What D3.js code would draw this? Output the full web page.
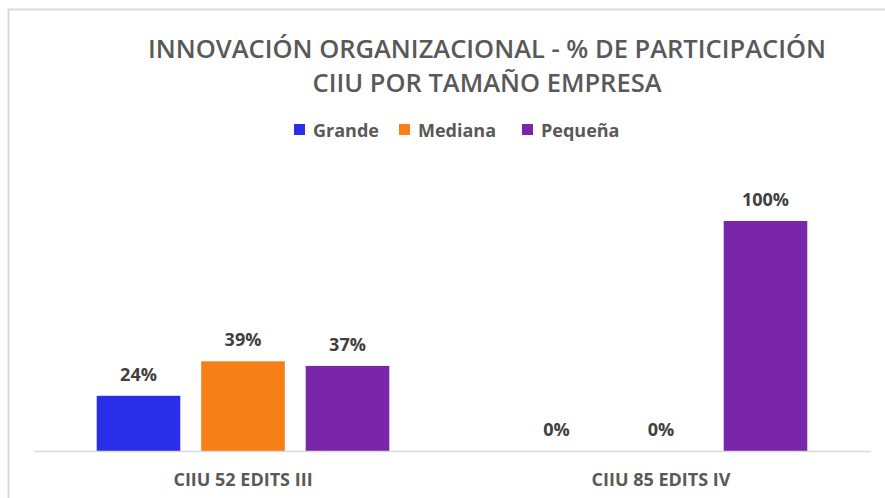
<!DOCTYPE html>
<html>
<head>
<meta charset="utf-8">
<script src="https://cdn.jsdelivr.net/npm/d3@7"></script>
<style>
  body { margin: 0; background: #fff; }
  text { font-family: "Open Sans", Lato, sans-serif; }
</style>
</head>
<body>
<div id="chart-area"></div>
<script>
// data
var categories = ["CIIU 52 EDITS III", "CIIU 85 EDITS IV"];
var series = ["Grande", "Mediana", "Pequeña"];
var grande = [24, 0];
var mediana = [39, 0];
var pequena = [37, 100];
var colors = ["#2b2ee9", "#f77f17", "#7a26a8"];

var W = 885, H = 498;
var margin = {left: 34, right: 15, top: 221, bottom: 47};

var svg = d3.select("#chart-area").append("svg")
    .attr("width", W)
    .attr("height", H);

// chart frame
svg.append("rect")
    .attr("x", 8.5).attr("y", 9.5)
    .attr("width", W + 20).attr("height", H + 20)
    .attr("fill", "#fff")
    .attr("stroke", "#d9d9d9")
    .attr("stroke-width", 2);

// title
var title = svg.append("text")
    .attr("text-anchor", "middle")
    .attr("fill", "#595959")
    .attr("font-size", "25.5px")
    .attr("font-weight", 600);
title.append("tspan").attr("x", 487).attr("y", 58).text("INNOVACIÓN ORGANIZACIONAL - % DE PARTICIPACIÓN");
title.append("tspan").attr("x", 487).attr("y", 92).text("CIIU POR TAMAÑO EMPRESA");

// scales
var x0 = d3.scaleBand()
    .domain(categories)
    .range([margin.left, W - margin.right]);

var x1 = d3.scaleBand()
    .domain(series)
    .range([0, x0.bandwidth()])
    .paddingInner(0.2)
    .paddingOuter(0.6);

var y = d3.scaleLinear()
    .domain([0, 100])
    .range([H - margin.bottom, margin.top]);

var color = d3.scaleOrdinal().domain(series).range(colors);

var rows = [];
categories.forEach(function(c, i) {
  rows.push({cat: c, ser: "Grande", v: grande[i]});
  rows.push({cat: c, ser: "Mediana", v: mediana[i]});
  rows.push({cat: c, ser: "Pequeña", v: pequena[i]});
});

var g = svg.append("g");

// bars
g.selectAll("rect.bar")
  .data(rows)
  .enter().append("rect")
    .attr("class", "bar")
    .attr("x", function(d) { return x0(d.cat) + x1(d.ser); })
    .attr("y", function(d) { return y(d.v); })
    .attr("width", x1.bandwidth())
    .attr("height", function(d) { return y(0) - y(d.v); })
    .attr("fill", function(d) { return color(d.ser); });

// data labels
g.selectAll("text.lbl")
  .data(rows)
  .enter().append("text")
    .attr("class", "lbl")
    .attr("x", function(d) { return x0(d.cat) + x1(d.ser) + x1.bandwidth() / 2; })
    .attr("y", function(d) { return y(d.v) - 15; })
    .attr("text-anchor", "middle")
    .attr("font-size", "18px")
    .attr("font-weight", 700)
    .attr("fill", "#404040")
    .text(function(d) { return d.v + "%"; });

// x axis
var xAxis = svg.append("g")
    .attr("transform", "translate(0," + y(0) + ")")
    .call(d3.axisBottom(x0).tickSize(0).tickPadding(22));
xAxis.select(".domain").attr("stroke", "#d9d9d9").attr("stroke-width", 1.5);
xAxis.selectAll("text")
    .attr("font-family", "'Open Sans', Lato, sans-serif")
    .attr("font-size", "18px")
    .attr("font-weight", 700)
    .attr("fill", "#595959");

// legend
var legX = [294, 399, 522];
var leg = svg.selectAll("g.leg")
  .data(series)
  .enter().append("g")
    .attr("class", "leg")
    .attr("transform", function(d, i) { return "translate(" + legX[i] + ",124)"; });
leg.append("rect")
    .attr("width", 11).attr("height", 11)
    .attr("fill", function(d) { return color(d); });
leg.append("text")
    .attr("x", 19).attr("y", 12.5)
    .attr("font-size", "18px")
    .attr("font-weight", 700)
    .attr("fill", "#595959")
    .text(function(d) { return d; });
</script>
</body>
</html>
